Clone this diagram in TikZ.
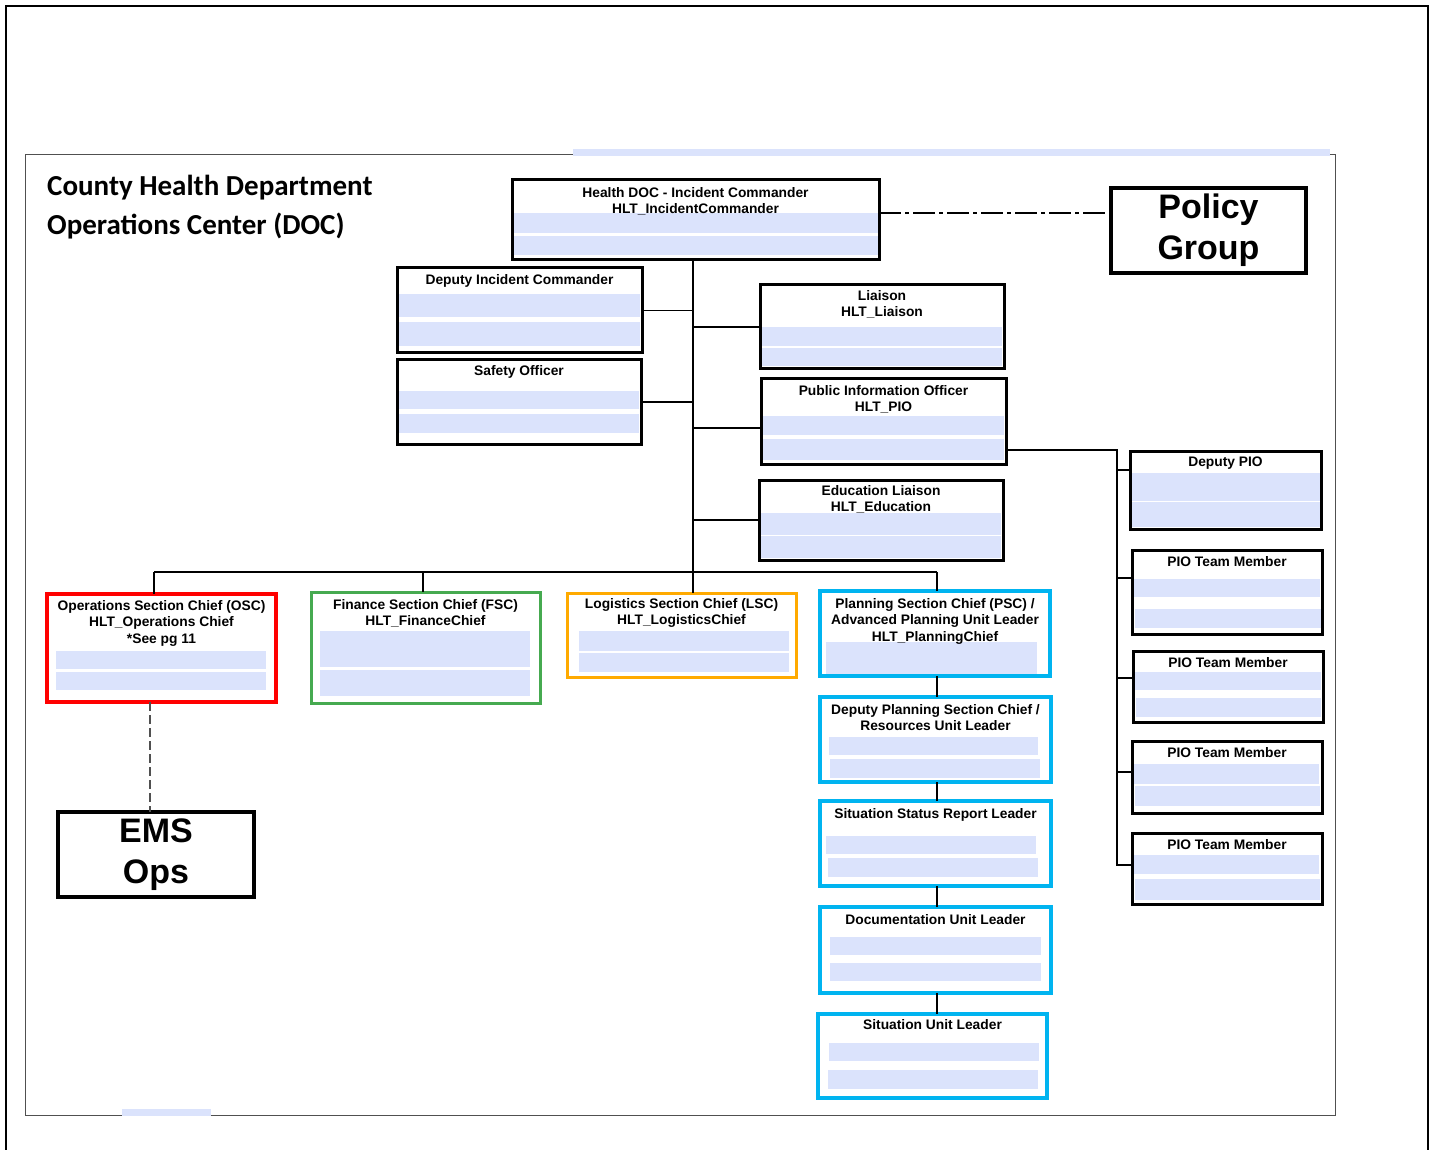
\documentclass[tikz,border=0pt]{standalone}
\usepackage{fontspec}
\setmainfont{Liberation Sans}
\newfontfamily\titlefont{Carlito}
\definecolor{barblue}{RGB}{219,227,252}
\definecolor{cyanb}{RGB}{0,180,240}
\definecolor{redb}{RGB}{255,0,0}
\definecolor{greenb}{RGB}{70,170,80}
\definecolor{orangeb}{RGB}{255,170,0}
\definecolor{framegray}{RGB}{80,80,80}
\newcommand\orgbox[6]{\node[#2, anchor=north west, minimum width={#5-#3}, minimum height={#6-#4}] (#1) at (#3,#4) {};}
\newcommand\orgboxt[7]{\node[#2, anchor=north west, minimum width={#5-#3}, minimum height={#6-#4}] (#1) at (#3,#4) {#7};}
\newcommand\orgbar[4]{\fill[bar] (#1,#2) rectangle (#3,#4);}
\newcommand\orglbl[3]{\node[lbl, anchor=north] (#1-t) at (#1.north |- 0,#2) {#3};}
\begin{document}
\begin{tikzpicture}[x=1pt,y=-1pt,
  box/.style={draw, line width=3pt, inner sep=0, outer sep=0},
  redbox/.style={box, draw=redb, line width=3.5pt},
  greenbox/.style={box, draw=greenb},
  orangebox/.style={box, draw=orangeb},
  cyanbox/.style={box, draw=cyanb, line width=3.5pt},
  bigbox/.style={box, line width=3.5pt, align=center, font=\fontsize{34}{41}\selectfont\bfseries},
  bar/.style={fill=barblue},
  lbl/.style={inner sep=0, align=center, font=\fontsize{13.8}{16.5}\selectfont\bfseries},
  titletext/.style={anchor=base west, inner sep=0, font=\titlefont\fontsize{29}{39}\selectfont\bfseries},
  conn/.style={line width=1.3pt},
  connb/.style={line width=2pt},
  pioc/.style={line width=2.6pt},
  dashdotline/.style={line width=1.3pt, dash pattern=on 22pt off 4pt on 4pt off 4pt},
  dashline/.style={line width=1.3pt, framegray, dash pattern=on 9pt off 4pt}
]
\useasboundingbox (0,0) rectangle (1433,1150);
% frames
\draw[line width=2pt] (6,1160) -- (6,6) -- (1428,6) -- (1428,1160);
\draw[line width=1pt, framegray] (25,155) rectangle (1335,1115);
\fill[bar] (573,149) rectangle (1330,156);
\fill[bar] (122,1109) rectangle (211,1116);
% title
\node[titletext] (title1) at (47,196) {County Health Department};
\node[titletext] (title2) at (47,235) {Operations Center (DOC)};
% bars
\orgbar{512}{213}{879}{233}\orgbar{512}{236}{879}{255}
\orgbar{399}{294}{640}{317}\orgbar{399}{322}{640}{346}
\orgbar{399}{391}{639}{409}\orgbar{399}{414}{639}{433}
\orgbar{762}{327}{1002}{346}\orgbar{762}{348}{1002}{366}
\orgbar{763}{416}{1004}{435}\orgbar{763}{439}{1004}{460}
\orgbar{761}{513}{1001}{535}\orgbar{761}{536}{1001}{558}
\orgbar{56}{651}{266}{669}\orgbar{56}{672}{266}{690}
\orgbar{320}{631}{530}{667}\orgbar{320}{670}{530}{696}
\orgbar{579}{631}{789}{651}\orgbar{579}{653}{789}{672}
\orgbar{826}{642}{1037}{662}\orgbar{826}{662}{1037}{675}
\orgbar{829}{737}{1038}{755}\orgbar{830}{759}{1040}{778}
\orgbar{826}{836}{1036}{854}\orgbar{828}{858}{1038}{877}
\orgbar{830}{937}{1041}{955}\orgbar{830}{963}{1041}{981}
\orgbar{829}{1043}{1039}{1061}\orgbar{828}{1070}{1038}{1089}
\orgbar{1131}{473}{1320}{501}\orgbar{1131}{502}{1320}{527}
\orgbar{1134}{579}{1320}{597}\orgbar{1135}{609}{1321}{628}
\orgbar{1135}{672}{1321}{690}\orgbar{1136}{698}{1321}{717}
\orgbar{1133}{764}{1319}{784}\orgbar{1135}{786}{1320}{806}
\orgbar{1133}{855}{1319}{874}\orgbar{1135}{879}{1320}{900}
% boxes
\orgbox{ic}{box}{512}{180}{879}{260}
\orgboxt{pg}{bigbox}{1111}{188}{1306}{273}{Policy\\Group}
\orgbox{dic}{box}{397}{268}{642}{353}
\orgbox{so}{box}{397}{360}{641}{444}
\orgbox{lia}{box}{760}{285}{1004}{369}
\orgbox{pio}{box}{761}{379}{1006}{464}
\orgbox{edu}{box}{759}{480}{1003}{560}
\orgbox{osc}{redbox}{47}{594}{276}{702}
\orgbox{fsc}{greenbox}{311}{592}{540}{703}
\orgbox{lsc}{orangebox}{567}{593}{796}{677}
\orgbox{psc}{cyanbox}{820}{591}{1050}{676}
\orgbox{dpsc}{cyanbox}{820}{697}{1051}{782}
\orgbox{ssr}{cyanbox}{820}{801}{1051}{886}
\orgbox{dul}{cyanbox}{820}{907}{1051}{993}
\orgbox{sul}{cyanbox}{818}{1014}{1047}{1098}
\orgboxt{ems}{bigbox}{58}{812}{254}{897}{EMS\\Ops}
\orgbox{dpio}{box}{1130}{451}{1321}{529}
\orgbox{ptma}{box}{1132}{550}{1322}{634}
\orgbox{ptmb}{box}{1133}{651}{1323}{722}
\orgbox{ptmc}{box}{1132}{741}{1322}{813}
\orgbox{ptmd}{box}{1132}{833}{1322}{904}
% labels
\orglbl{ic}{187}{Health DOC - Incident Commander\\HLT\_IncidentCommander}
\orglbl{dic}{274}{Deputy Incident Commander}
\orglbl{so}{365}{Safety Officer}
\orglbl{lia}{290}{Liaison\\HLT\_Liaison}
\orglbl{pio}{385}{Public Information Officer\\HLT\_PIO}
\orglbl{edu}{485}{Education Liaison\\HLT\_Education}
\orglbl{osc}{600}{Operations Section Chief (OSC)\\HLT\_Operations Chief\\*See pg 11}
\orglbl{fsc}{599}{Finance Section Chief (FSC)\\HLT\_FinanceChief}
\orglbl{lsc}{598}{Logistics Section Chief (LSC)\\HLT\_LogisticsChief}
\orglbl{psc}{598}{Planning Section Chief (PSC) /\\Advanced Planning Unit Leader\\HLT\_PlanningChief}
\orglbl{dpsc}{704}{Deputy Planning Section Chief /\\Resources Unit Leader}
\orglbl{ssr}{808}{Situation Status Report Leader}
\orglbl{dul}{914}{Documentation Unit Leader}
\orglbl{sul}{1019}{Situation Unit Leader}
\orglbl{dpio}{457}{Deputy PIO}
\orglbl{ptma}{556}{PIO Team Member}
\orglbl{ptmb}{657}{PIO Team Member}
\orglbl{ptmc}{747}{PIO Team Member}
\orglbl{ptmd}{839}{PIO Team Member}
% connectors
\coordinate (tx) at (693,0);
\coordinate (icR) at (ic.east |- 0,213);
\draw[dashdotline] (icR) -- (pg.west |- icR);
\draw[conn] (ic.south -| tx) -- (lsc.north -| tx);
\draw[conn] (dic.east) -- (dic.east -| tx);
\draw[connb] (so.east) -- (so.east -| tx);
\draw[connb] (lia.west) -- (lia.west -| tx);
\coordinate (pioL) at ([yshift=-6.5pt]pio.west);
\draw[connb] (pioL) -- (pioL -| tx);
\draw[connb] (edu.west) -- (edu.west -| tx);
\coordinate (busL) at (154,572);
\coordinate (busR) at (937,572);
\coordinate (fx) at (423,0);
\draw[conn] (busL) -- (busR);
\draw[conn] (busL) -- (osc.north -| busL);
\draw[connb] (busL -| fx) -- (fsc.north -| fx);
\draw[connb] (busR) -- (psc.north -| busR);
\draw[connb] (psc.south -| busR) -- (dpsc.north -| busR);
\draw[connb] (dpsc.south -| busR) -- (ssr.north -| busR);
\draw[connb] (ssr.south -| busR) -- (dul.north -| busR);
\draw[connb] (dul.south -| busR) -- (sul.north -| busR);
\draw[dashline] (osc.south -| 150,0) -- (ems.north -| 150,0);
\coordinate (px) at (1117,0);
\coordinate (pioR) at ([yshift=-28.5pt]pio.east);
\coordinate (bd) at ([yshift=-32pt]ptmd.north west);
\draw[pioc] (pioR) -- (pioR -| px) -- (bd -| px) -- (bd);
\coordinate (ba) at ([yshift=-19pt]dpio.north west);
\coordinate (bb) at ([yshift=-28pt]ptma.north west);
\coordinate (bc) at ([yshift=-27pt]ptmb.north west);
\coordinate (be) at ([yshift=-31pt]ptmc.north west);
\draw[conn] (ba -| px) -- (ba);
\draw[conn] (bb -| px) -- (bb);
\draw[conn] (bc -| px) -- (bc);
\draw[conn] (be -| px) -- (be);
\end{tikzpicture}
\end{document}
